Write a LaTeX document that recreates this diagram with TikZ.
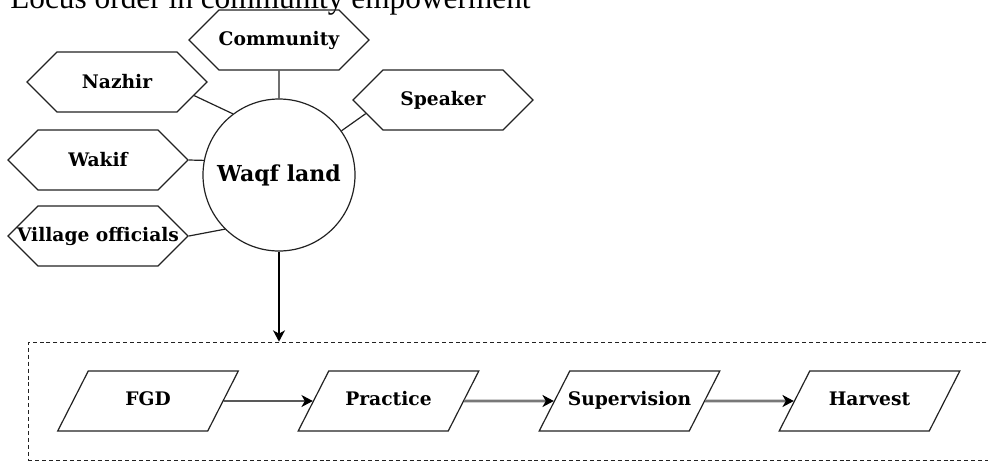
\documentclass[tikz,border=0pt]{standalone}
\usepackage{fontspec}
\setmainfont{DejaVu Serif}
\newfontfamily\captionfont{Liberation Serif}
\usepackage{xcolor}
\usepackage{tikz}
\usetikzlibrary{positioning,arrows.meta,shapes.geometric,shapes.symbols}

\definecolor{flowgray}{RGB}{120,120,120}
\definecolor{inkdark}{RGB}{34,34,34}

\tikzset{
    hexbox/.style={signal, signal to=east and west, signal pointer angle=90,
        draw=inkdark, line width=0.9pt, minimum width=135pt, minimum height=45pt,
        inner xsep=-20pt, inner ysep=0pt, font=\bfseries\fontsize{14}{16}\selectfont},
    hub/.style={circle, draw=inkdark, line width=0.9pt, minimum size=114pt,
        inner sep=0pt, font=\bfseries\fontsize{16.5}{18}\selectfont},
    stepshape/.style={trapezium, trapezium left angle=63, trapezium right angle=117,
        trapezium stretches=false, draw=inkdark, line width=0.9pt,
        text width=96pt, align=center, inner xsep=-3.2pt, inner ysep=16pt,
        text height=10pt, text depth=3pt,
        font=\bfseries\fontsize{14}{16}\selectfont},
    stagebox/.style={draw=inkdark, line width=0.8pt, dash pattern=on 3pt off 2.2pt,
        minimum width=736pt, minimum height=89pt, inner sep=0pt},
    link/.style={draw=inkdark, line width=0.9pt},
    arr/.style={-{Stealth[length=8.5pt,width=9pt,inset=2.5pt]}, draw=black, line width=0.9pt},
    grayarr/.style={-{Stealth[length=8.5pt,width=9pt,inset=2.5pt,color=black]},
        draw=flowgray, line width=2pt}
}

\begin{document}
\begin{tikzpicture}[x=0.75pt, y=-0.75pt]
\useasboundingbox (0,0) rectangle (988,462);
\clip (0,0) rectangle (988,462);

% Caption line, cut off at the top
\node[anchor=base west, inner sep=0pt, font=\captionfont\fontsize{23.5}{26}\selectfont] (caption) at (10,8) {Locus order in community empowerment};

% Centre circle
\node[hub] (waqf) at (279,175) {Waqf land};

% Actors round the circle
\node[hexbox] (community) at (279,40) {Community};
\node[hexbox] (nazhir) at (117,82) {Nazhir};
\node[hexbox] (speaker) at (443,100) {Speaker};
\node[hexbox] (wakif) at (98,160) {Wakif};
\node[hexbox] (village) at (98,236) {Village officials};

% Links to the circle
\draw[link] (community) -- (waqf);
\draw[link] (nazhir.350) -- (waqf.127);
\draw[link] (waqf) -- (speaker.190);
\draw[link] (wakif.east) -- (waqf.169);
\draw[link] (village.east) -- (waqf.225);

% Dashed frame round the steps
\node[stagebox] (stage) at (519,401.5) {};
\draw[arr] (waqf) -- (waqf |- stage.north);

% Steps
\foreach \x/\name/\txt in {148/fgd/FGD, 388.5/prac/Practice, 629.5/sup/Supervision, 869.5/harv/Harvest} {
    \node[stepshape] (\name) at (\x,401) {\txt};
}
\draw[arr] (fgd) -- (prac);
\draw[grayarr] (prac) -- (sup);
\draw[grayarr] (sup) -- (harv);
\end{tikzpicture}
\end{document}
